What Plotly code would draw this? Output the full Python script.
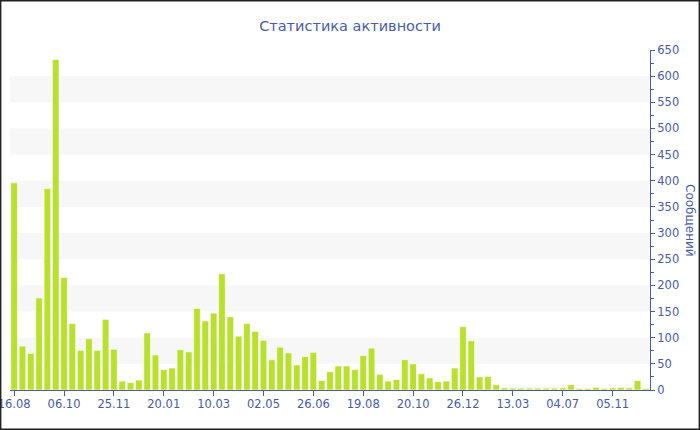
import plotly.graph_objects as go

values = [396, 84, 70, 176, 385, 632, 215, 127, 76, 98, 76, 135, 78, 17, 14, 19,
          109, 67, 39, 42, 77, 73, 156, 132, 147, 222, 140, 103, 127, 112, 95, 58,
          82, 71, 48, 64, 72, 18, 35, 46, 46, 39, 66, 80, 30, 17, 20, 58, 50, 31,
          23, 16, 17, 42, 121, 94, 25, 26, 10, 4, 3.5, 3.5, 3.5, 3.5, 3.5, 3.5, 4,
          10, 3, 3, 5, 3, 4, 5, 4, 18, 3]
tick_labels = ["16.08", "06.10", "25.11", "20.01", "10.03", "02.05", "26.06",
               "19.08", "20.10", "26.12", "13.03", "04.07", "05.11"]
tick_step = 6
title_text = "Статистика активности"
y_title = "Сообщений"

x = list(range(len(values)))
tick_pos = [i * tick_step for i in range(len(tick_labels))]

blue = "#4a5ba0"
font = "DejaVu Sans"

fig = go.Figure()
fig.add_trace(go.Bar(x=x, y=values, width=0.8,
                     marker=dict(color="#b9e02e", line=dict(color="white", width=0.6))))

shapes = []
for lo in range(50, 650, 100):
    shapes.append(dict(type="rect", xref="paper", yref="y", x0=0, x1=1, y0=lo, y1=lo + 50,
                       fillcolor="#f7f7f7", line=dict(width=0), layer="below"))
L, R, T, B = 10, 50, 50, 40
PW, PH = 700 - L - R, 430 - T - B
shapes.append(dict(type="rect", xref="paper", yref="paper",
                   x0=-(L - 0.7) / PW, x1=1 + (R - 0.7) / PW,
                   y0=-(B - 0.7) / PH, y1=1 + (T - 0.7) / PH,
                   line=dict(color="#222222", width=1.4), fillcolor="rgba(0,0,0,0)"))

fig.update_layout(
    width=700, height=430,
    margin=dict(l=L, r=R, t=T, b=B, autoexpand=False),
    paper_bgcolor="white", plot_bgcolor="white",
    showlegend=False,
    bargap=0.2,
    font=dict(family=font, color=blue),
    title=dict(text=title_text, x=0.5, xref="container", y=1 - 26 / 430,
               yref="container", yanchor="middle",
               font=dict(size=14.5, color=blue, family=font)),
    xaxis=dict(range=[-0.5, len(values) - 0.5], tickmode="array", tickvals=tick_pos,
               ticktext=tick_labels, showgrid=False, zeroline=False, automargin=False,
               ticklabeloverflow="allow", ticklabelstandoff=-2,
               showline=True, linecolor=blue, linewidth=1,
               ticks="outside", ticklen=5, tickcolor=blue,
               tickfont=dict(size=11.5, color=blue, family=font)),
    yaxis=dict(side="right", range=[0, 650], dtick=50, showgrid=False, zeroline=False,
               automargin=False,
               showline=True, linecolor=blue, linewidth=1,
               ticks="outside", ticklen=4, tickcolor=blue,
               tickfont=dict(size=11.5, color=blue, family=font),
               minor=dict(dtick=25, ticklen=3, tickcolor=blue, showgrid=False, ticks="outside")),
    shapes=shapes,
    annotations=[dict(text=y_title, xref="paper", yref="paper", x=1 + 40 / PW, y=0.5,
                      textangle=90, showarrow=False, xanchor="center", yanchor="middle",
                      font=dict(size=12, color=blue, family=font))],
)

fig.write_html("out.html", config={"displayModeBar": False},
               post_script="document.body.style.margin='0';document.body.style.overflow='hidden';")
